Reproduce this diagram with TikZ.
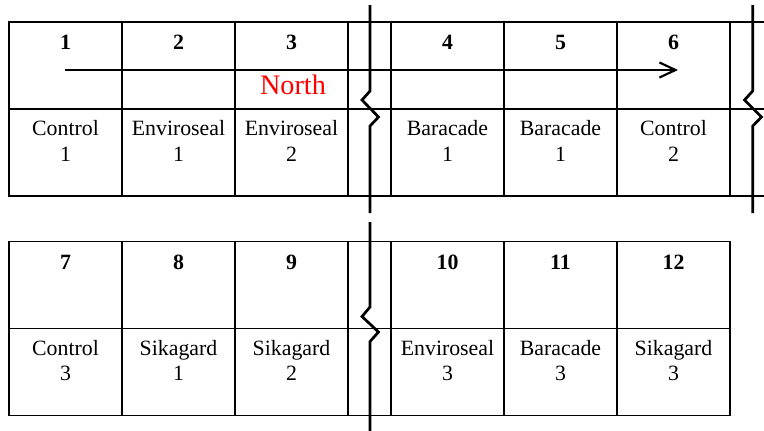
\documentclass[tikz,border=0pt]{standalone}
\usepackage{fontspec}
\setmainfont{Liberation Serif}
\usepackage{xcolor}
\usepackage{tikz}
\usetikzlibrary{arrows.meta,positioning}

\begin{document}
\begin{tikzpicture}[
  x=0.55pt, y=-0.55pt,
  node distance=0pt,
  cell/.style={draw, line width=0.6pt, outer sep=0pt, inner sep=0pt, minimum width=62.15pt, minimum height=47.85pt},
  gapcell/.style={cell, minimum width=23.65pt},
  num/.style={inner sep=0pt, font=\fontsize{12}{14.1}\selectfont\bfseries},
  plot/.style={inner sep=0pt, align=center, font=\fontsize{12}{14.1}\selectfont},
  brk/.style={line width=1.5pt},
  arrow/.style={-{Straight Barb[length=8.8pt, width=8.3pt]}, line width=1.2pt}
]
\useasboundingbox (0,0) rectangle (764,430);

% upper strip
\node[cell, anchor=north west] (t1) at (9,22) {};
\node[cell, right=of t1] (t2) {};
\node[cell, right=of t2] (t3) {};
\node[gapcell, right=of t3] (tg) {};
\node[cell, right=of tg] (t4) {};
\node[cell, right=of t4] (t5) {};
\node[cell, right=of t5] (t6) {};
\node[gapcell, right=of t6] (th) {};
\node[cell, below=of t1] (u1) {};
\node[cell, below=of t2] (u2) {};
\node[cell, below=of t3] (u3) {};
\node[gapcell, below=of tg] (ug) {};
\node[cell, below=of t4] (u4) {};
\node[cell, below=of t5] (u5) {};
\node[cell, below=of t6] (u6) {};
\node[gapcell, below=of th] (uh) {};

\node[num, below=7.15pt of t1.north] (n1) {1};
\node[num, below=7.15pt of t2.north] (n2) {2};
\node[num, below=7.15pt of t3.north] (n3) {3};
\node[num, below=7.15pt of t4.north] (n4) {4};
\node[num, below=7.15pt of t5.north] (n5) {5};
\node[num, below=7.15pt of t6.north] (n6) {6};
\node[plot, below=6.05pt of u1.north] (s1) {Control\\1};
\node[plot, below=6.05pt of u2.north] (s2) {Enviroseal\\1};
\node[plot, below=6.05pt of u3.north] (s3) {Enviroseal\\2};
\node[plot, below=6.05pt of u4.north] (s4) {Baracade\\1};
\node[plot, below=6.05pt of u5.north] (s5) {Baracade\\1};
\node[plot, below=6.05pt of u6.north] (s6) {Control\\2};

% lower strip
\node[cell, anchor=north west] (v1) at (9,241.5) {};
\node[cell, right=of v1] (v2) {};
\node[cell, right=of v2] (v3) {};
\node[gapcell, right=of v3] (vg) {};
\node[cell, right=of vg] (v4) {};
\node[cell, right=of v4] (v5) {};
\node[cell, right=of v5] (v6) {};
\node[cell, below=of v1] (w1) {};
\node[cell, below=of v2] (w2) {};
\node[cell, below=of v3] (w3) {};
\node[gapcell, below=of vg] (wg) {};
\node[cell, below=of v4] (w4) {};
\node[cell, below=of v5] (w5) {};
\node[cell, below=of v6] (w6) {};

\node[num, below=7.15pt of v1.north] (n7) {7};
\node[num, below=7.15pt of v2.north] (n8) {8};
\node[num, below=7.15pt of v3.north] (n9) {9};
\node[num, below=7.15pt of v4.north] (n10) {10};
\node[num, below=7.15pt of v5.north] (n11) {11};
\node[num, below=7.15pt of v6.north] (n12) {12};
\node[plot, below=6.05pt of w1.north] (s7) {Control\\3};
\node[plot, below=6.05pt of w2.north] (s8) {Sikagard\\1};
\node[plot, below=6.05pt of w3.north] (s9) {Sikagard\\2};
\node[plot, below=6.05pt of w4.north] (s10) {Enviroseal\\3};
\node[plot, below=6.05pt of w5.north] (s11) {Baracade\\3};
\node[plot, below=6.05pt of w6.north] (s12) {Sikagard\\3};

% break marks
\draw[brk] (370,5) -- (370,91) -- (362,100) -- (378.5,117) -- (370,126) -- (370,213);
\draw[brk] (752.7,5) -- (752.7,91) -- (744.5,100) -- (761.5,117) -- (752.7,126) -- (752.7,213);
\draw[brk] (370,222) -- (370,307) -- (362,316.5) -- (378.5,332) -- (370,341.5) -- (370,432);

% direction
\coordinate (south) at (65,70);
\coordinate (north) at (678,70);
\draw[arrow] (south) -- (north);
\node[inner sep=0pt, red, font=\fontsize{15.5}{18}\selectfont] (lbl) at (293,85) {North};
\end{tikzpicture}
\end{document}
